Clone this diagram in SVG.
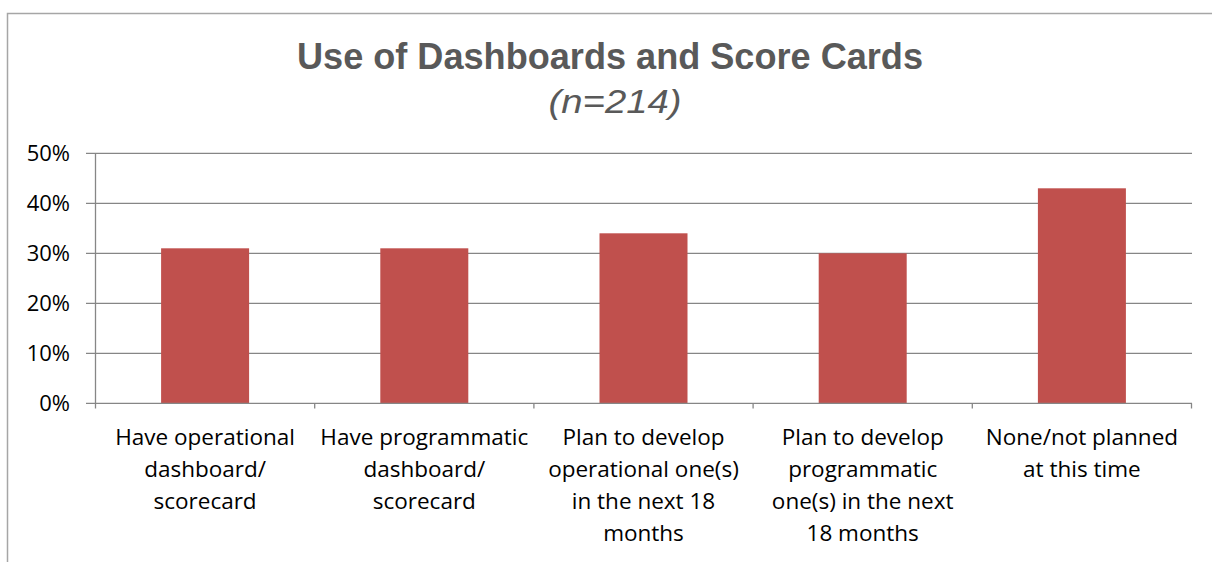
<svg xmlns="http://www.w3.org/2000/svg" width="1212" height="562" viewBox="0 0 1212 562">
<style>
.frame{fill:none;stroke:#a6a6a6;stroke-width:1.5}
.grid{stroke:#868686;stroke-width:1.3}
.axis{stroke:#868686;stroke-width:1.3;fill:none}
.bar{fill:#C0504D}
.title{font-family:"Liberation Sans",Arial,sans-serif;font-weight:bold;font-size:36px;fill:#595959;text-anchor:middle}
.sub{font-family:"Liberation Sans",Arial,sans-serif;font-style:italic;font-size:33px;fill:#595959;text-anchor:middle}
.ylab{font-family:"Open Sans",sans-serif;font-size:22px;fill:#000;text-anchor:end}
.xlab{font-family:"Open Sans",sans-serif;font-size:22.5px;fill:#000;text-anchor:middle}
</style>
<rect width="1212" height="562" fill="#fff"/>
<path class="frame" d="M7.5,562 V13.5 H1212"/>
<g id="title">
<text class="title" x="610" y="69" textLength="626" lengthAdjust="spacingAndGlyphs">Use of Dashboards and Score Cards</text>
<text class="sub" x="615" y="113" textLength="133" lengthAdjust="spacingAndGlyphs">(n=214)</text>
</g>
<g id="gridlines">
<line class="grid" x1="86" y1="153.3" x2="1192" y2="153.3"/>
<line class="grid" x1="86" y1="203.3" x2="1192" y2="203.3"/>
<line class="grid" x1="86" y1="253.3" x2="1192" y2="253.3"/>
<line class="grid" x1="86" y1="303.3" x2="1192" y2="303.3"/>
<line class="grid" x1="86" y1="353.3" x2="1192" y2="353.3"/>
</g>
<g id="y-labels">
<text class="ylab" x="70" y="161">50%</text>
<text class="ylab" x="70" y="211">40%</text>
<text class="ylab" x="70" y="261">30%</text>
<text class="ylab" x="70" y="311">20%</text>
<text class="ylab" x="70" y="361">10%</text>
<text class="ylab" x="70" y="411">0%</text>
</g>
<g id="bars">
<rect id="bar1" class="bar" x="161.1" y="248.3" width="88" height="155"/>
<rect id="bar2" class="bar" x="380.3" y="248.3" width="88" height="155"/>
<rect id="bar3" class="bar" x="599.5" y="233.3" width="88" height="170"/>
<rect id="bar4" class="bar" x="818.7" y="253.3" width="88" height="150"/>
<rect id="bar5" class="bar" x="1037.9" y="188.3" width="88" height="215"/>
</g>
<g id="axes">
<line class="axis" x1="95.5" y1="153.3" x2="95.5" y2="408.5"/>
<line class="axis" x1="86" y1="403.3" x2="1192" y2="403.3"/>
<line class="axis" x1="314.7" y1="403.3" x2="314.7" y2="408.5"/>
<line class="axis" x1="533.9" y1="403.3" x2="533.9" y2="408.5"/>
<line class="axis" x1="753.1" y1="403.3" x2="753.1" y2="408.5"/>
<line class="axis" x1="972.3" y1="403.3" x2="972.3" y2="408.5"/>
<line class="axis" x1="1191.5" y1="403.3" x2="1191.5" y2="408.5"/>
</g>
<g id="x-labels">
<text class="xlab" x="205.1" y="445"><tspan x="205.1">Have operational</tspan><tspan x="205.1" dy="32">dashboard/</tspan><tspan x="205.1" dy="32">scorecard</tspan></text>
<text class="xlab" x="424.3" y="445"><tspan x="424.3">Have programmatic</tspan><tspan x="424.3" dy="32">dashboard/</tspan><tspan x="424.3" dy="32">scorecard</tspan></text>
<text class="xlab" x="643.5" y="445"><tspan x="643.5">Plan to develop</tspan><tspan x="643.5" dy="32">operational one(s)</tspan><tspan x="643.5" dy="32">in the next 18</tspan><tspan x="643.5" dy="32">months</tspan></text>
<text class="xlab" x="862.7" y="445"><tspan x="862.7">Plan to develop</tspan><tspan x="862.7" dy="32">programmatic</tspan><tspan x="862.7" dy="32">one(s) in the next</tspan><tspan x="862.7" dy="32">18 months</tspan></text>
<text class="xlab" x="1081.9" y="445"><tspan x="1081.9">None/not planned</tspan><tspan x="1081.9" dy="32">at this time</tspan></text>
</g>
</svg>
